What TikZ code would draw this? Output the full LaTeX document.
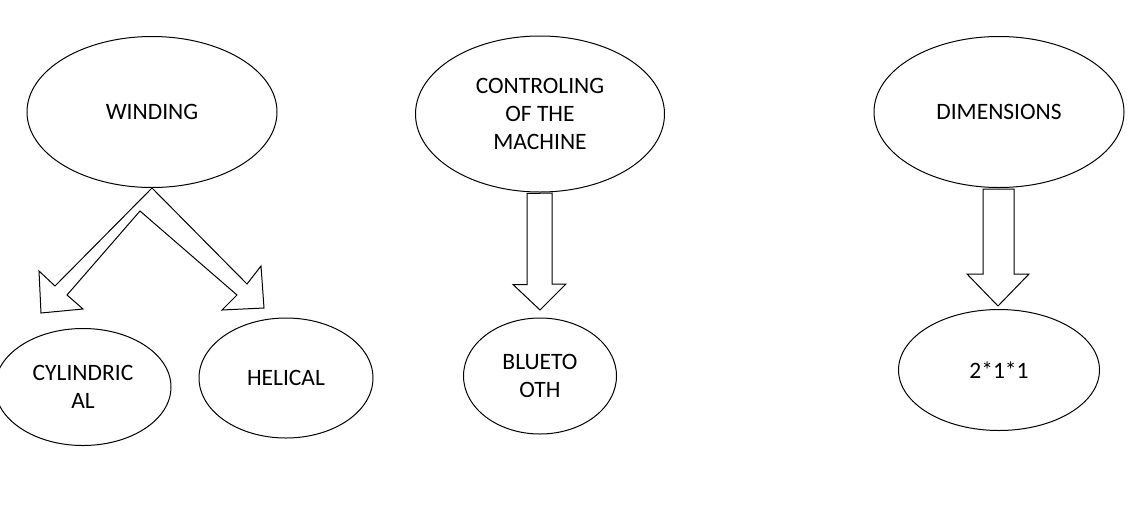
\documentclass[tikz,border=0pt]{standalone}
\usepackage{fontspec}
\setmainfont{Carlito}
\usetikzlibrary{shapes.geometric,calc}
\tikzset{
  bubble/.style={draw, ellipse, inner sep=0pt, align=center, line width=1pt,
    font=\fontsize{23.5}{28}\selectfont},
  blockarrow/.style={draw, fill=white, line width=1pt, line join=miter}
}
\begin{document}
\begin{tikzpicture}[x=1pt, y=-1pt]
    \useasboundingbox (0,0) rectangle (1140,504);

    % Top ellipses
    \node[bubble, minimum width=250, minimum height=151] (winding) at (152,112) {WINDING};
    \node[bubble, minimum width=249, minimum height=156] (control) at (540,114) {CONTROLING\\OF THE\\MACHINE};
    \node[bubble, minimum width=250, minimum height=151] (dims) at (999,112) {DIMENSIONS};

    % Bottom ellipses
    \node[bubble, minimum width=176, minimum height=117] (cyl) at (83,387) {CYLINDRIC\\AL};
    \node[bubble, minimum width=174, minimum height=120] (helical) at (286,378) {HELICAL};
    \node[bubble, minimum width=153, minimum height=116] (bluetooth) at (540,376) {BLUETO\\OTH};
    \node[bubble, minimum width=201, minimum height=121] (size) at (999,370) {2*1*1};

    % Split arrow under winding
    \draw[blockarrow] (winding.south) -- (55,286) -- (39,271) -- (41,313) -- (83,309)
      -- (67,295) -- (140,211) -- (237,295) -- (222,310) -- (264,308)
      -- (261,266) -- (247,284) -- cycle;

    % Arrow under the controller
    \draw[blockarrow] ($(control.south)+(-13,1)$) -- ++(0,91) -- ++(-14,0)
      -- (bluetooth.north |- 0,310) -- (566,284) -- ++(-14,0) -- ++(0,-91) -- cycle;

    % Arrow under dimensions
    \draw[blockarrow] ($(dims.south)+(-16,1)$) -- ++(0,85) -- ++(-16,0)
      -- (998,306) -- (1029,274) -- ++(-15,0) -- ++(0,-85) -- cycle;
\end{tikzpicture}
\end{document}
